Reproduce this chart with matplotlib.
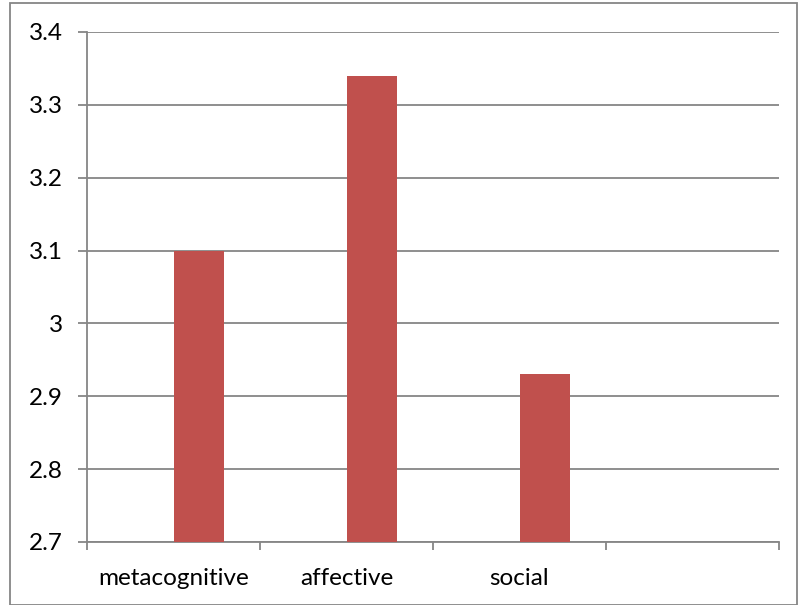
import numpy as np
import matplotlib.pyplot as plt
from matplotlib.patches import Rectangle

categories = ["metacognitive", "affective", "social", ""]
values = [3.1, 3.34, 2.93]
yticks = [2.7, 2.8, 2.9, 3.0, 3.1, 3.2, 3.3, 3.4]
ytick_labels = ["2.7", "2.8", "2.9", "3", "3.1", "3.2", "3.3", "3.4"]

W, H = 798, 605
fig = plt.figure(figsize=(W / 100, H / 100), dpi=100)
ax = fig.add_axes([87 / W, 1 - 542 / H, (779 - 87) / W, (542 - 32) / H])

grid_color = "#868686"
bar_color = "#C0504D"
font = ["Lato", "DejaVu Sans"]

x = np.arange(len(values))
ax.bar(x, np.array(values) - 2.7, bottom=2.7, width=0.29, align="edge",
       color=bar_color, zorder=3)

ax.set_xlim(-0.5, len(categories) - 0.5)
ax.set_ylim(2.7, 3.4)
ax.set_yticks(yticks)
ax.set_yticklabels(ytick_labels, family=font, fontsize=17.5)
ax.yaxis.grid(True, color=grid_color, linewidth=1.3)
ax.set_axisbelow(True)

ax.set_xticks(np.arange(len(categories) + 1) - 0.5)
ax.set_xticklabels([])
ax.set_xticks(np.arange(len(categories)), minor=True)
ax.set_xticklabels(categories, minor=True, family=font, fontsize=17.5)
ax.tick_params(axis="x", which="minor", length=0, pad=18.5)
ax.tick_params(axis="x", which="major", length=6, width=1.3, color=grid_color)
ax.tick_params(axis="y", length=6.5, width=1.3, color=grid_color, pad=11)

for side in ["top", "right"]:
    ax.spines[side].set_visible(False)
for side in ["left", "bottom"]:
    ax.spines[side].set_color(grid_color)
    ax.spines[side].set_linewidth(1.3)

fig.patches.append(Rectangle((10 / W, 0.5 / H), (W - 11) / W, (H - 3) / H,
                             transform=fig.transFigure, fill=False,
                             edgecolor=grid_color, linewidth=1.3))

fig.savefig("out.png", dpi=100)
